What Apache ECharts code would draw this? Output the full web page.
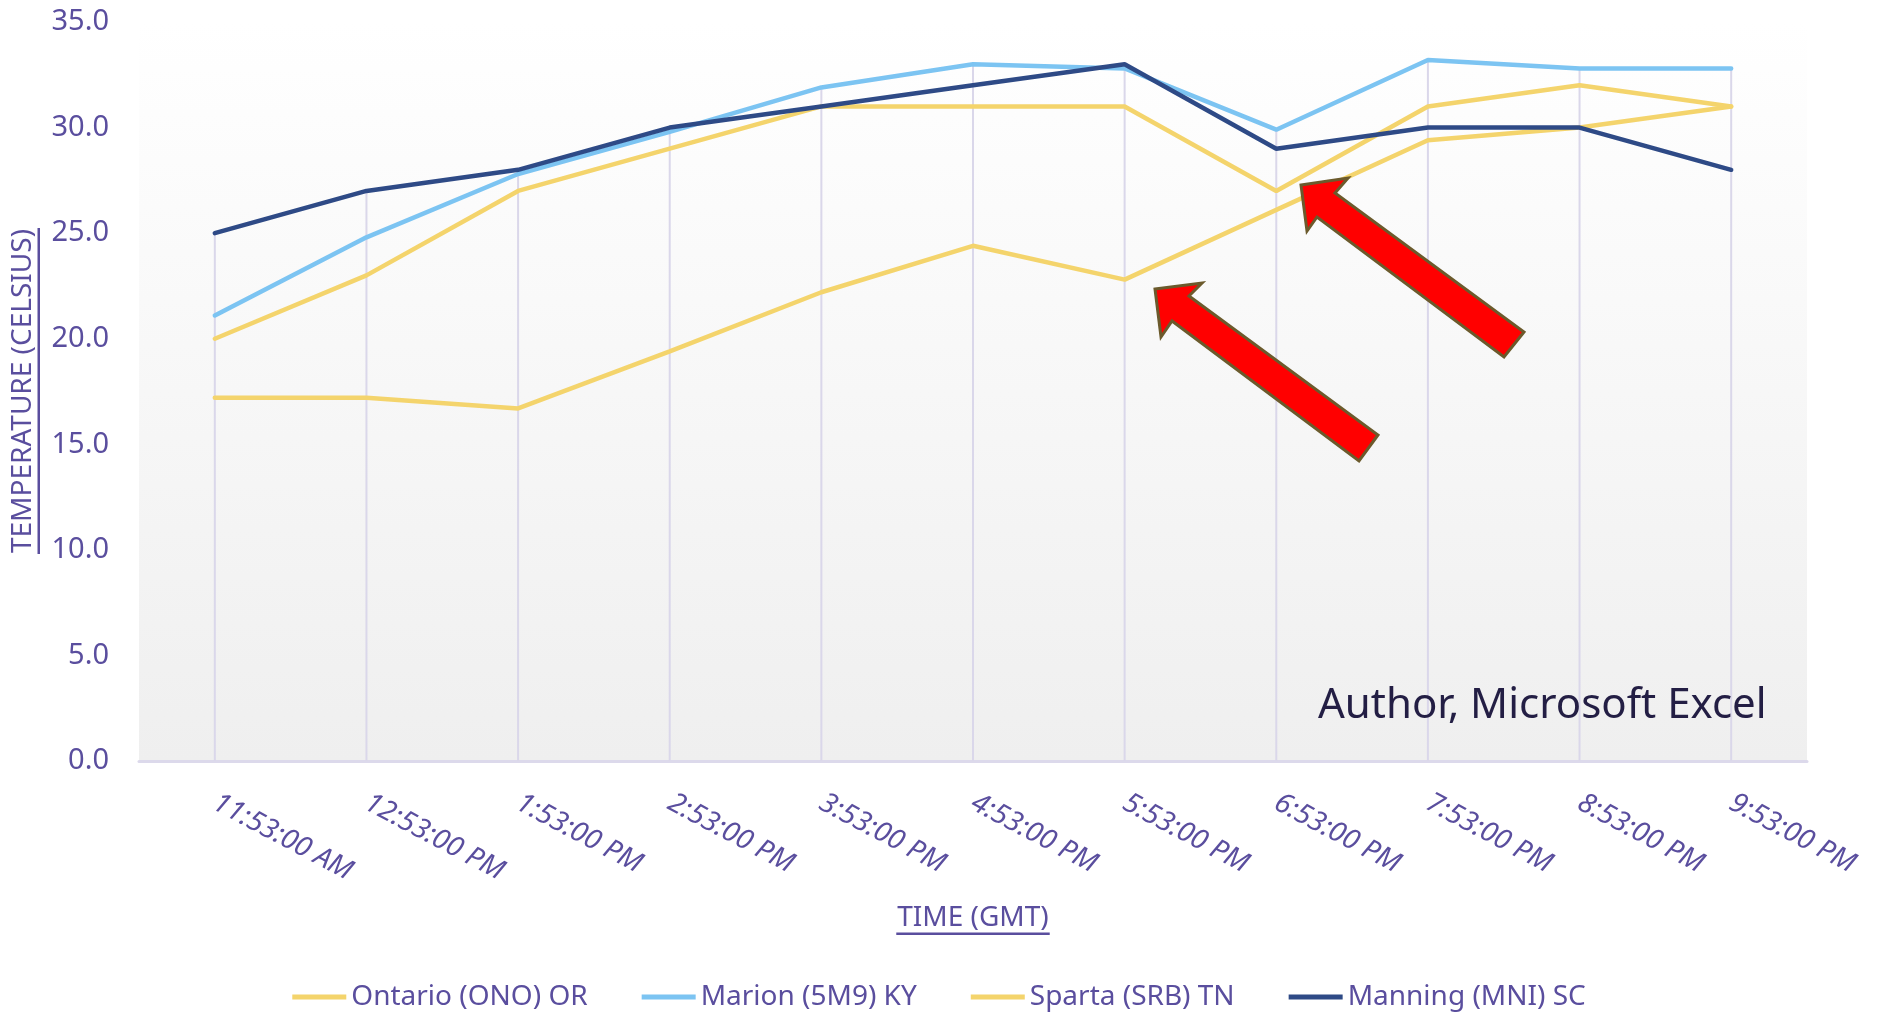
<!DOCTYPE html>
<html>
<head>
<meta charset="utf-8">
<script src="https://cdn.jsdelivr.net/npm/echarts@6/dist/echarts.min.js"></script>
<style>
html, body { margin: 0; padding: 0; background: #ffffff; }
#main { width: 1878px; height: 1013px; }
</style>
</head>
<body>
<div id="main"></div>
<script>
// time of reading (GMT)
const times = ['11:53:00 AM', '12:53:00 PM', '1:53:00 PM', '2:53:00 PM', '3:53:00 PM', '4:53:00 PM',
    '5:53:00 PM', '6:53:00 PM', '7:53:00 PM', '8:53:00 PM', '9:53:00 PM']
// temperatures, celsius
const ontario = [17.2, 17.2, 16.7, 19.4, 22.2, 24.4, 22.8, 26.1, 29.4, 30.0, 31.0]
const marion = [21.1, 24.8, 27.8, 29.8, 31.9, 33.0, 32.8, 29.9, 33.2, 32.8, 32.8]
const sparta = [20.0, 23.0, 27.0, 29.0, 31.0, 31.0, 31.0, 27.0, 31.0, 32.0, 31.0]
const manning = [25.0, 27.0, 28.0, 30.0, 31.0, 32.0, 33.0, 29.0, 30.0, 30.0, 28.0]
const names = ['Ontario (ONO) OR', 'Marion (5M9) KY', 'Sparta (SRB) TN', 'Manning (MNI) SC']
const colors = ['#f4d46c', '#7cc4f2', '#f4d46c', '#2e4a86']

const purple = '#5a4e9e'
const font = '"Noto Sans", sans-serif'

// drop lines go from the highest reading down to the axis
let dropLines = []
for (let i = 0; i < times.length; i++) {
    dropLines.push(Math.max(ontario[i], marion[i], sparta[i], manning[i]))
}

const chart = echarts.init(document.getElementById('main'))

// excel underlines the axis titles, echarts can't, so draw a bar under the text
const measure = document.createElement('canvas').getContext('2d')
function axisTitle(text, x, y, rotation) {
    measure.font = '28px ' + font
    const w = measure.measureText(text).width + 2
    return {
        type: 'group',
        x: x,
        y: y,
        rotation: rotation,
        z: 100,
        children: [
            {
                type: 'text',
                x: 0,
                y: -3,
                style: {
                    text: text,
                    font: '28px ' + font,
                    fill: purple,
                    align: 'center',
                    verticalAlign: 'bottom'
                }
            },
            {
                type: 'rect',
                shape: { x: -w / 2, y: -2.5, width: w, height: 2.5 },
                style: { fill: purple }
            }
        ]
    }
}

function arrow(points) {
    return {
        type: 'polygon',
        z: 100,
        shape: { points: points },
        style: { fill: '#ff0000', stroke: '#6b5a2c', lineWidth: 3 }
    }
}

let option = {
    animation: false,
    backgroundColor: '#ffffff',
    grid: {
        left: 139,
        right: 71,
        top: 22,
        bottom: 252,
        show: true,
        borderWidth: 0,
        backgroundColor: new echarts.graphic.LinearGradient(0, 0, 0, 1, [
            { offset: 0, color: '#ffffff' },
            { offset: 1, color: '#efefef' }
        ])
    },
    legend: {
        data: names,
        left: 'center',
        top: 978,
        icon: 'rect',
        itemWidth: 54,
        itemHeight: 5,
        itemGap: 54,
        textStyle: { fontSize: 28, fontFamily: font, color: purple }
    },
    xAxis: {
        type: 'category',
        data: times,
        boundaryGap: true,
        axisLine: { lineStyle: { color: '#dcd9eb', width: 3 } },
        axisTick: { show: false },
        splitLine: { show: false },
        axisLabel: {
            rotate: -28,
            margin: 40,
            fontSize: 28,
            fontStyle: 'italic',
            fontFamily: font,
            color: purple
        }
    },
    yAxis: {
        type: 'value',
        min: 0,
        max: 35,
        interval: 5,
        axisLine: { show: false },
        axisTick: { show: false },
        splitLine: { show: false },
        axisLabel: {
            margin: 30,
            fontSize: 29,
            fontFamily: font,
            color: purple,
            formatter: v => v.toFixed(1)
        }
    },
    series: [
        {
            name: 'drop',
            type: 'bar',
            data: dropLines,
            barWidth: 2,
            silent: true,
            z: 1,
            itemStyle: { color: '#dad7ea' }
        },
        {
            name: names[0],
            type: 'line',
            data: ontario,
            symbol: 'none',
            z: 3,
            lineStyle: { color: colors[0], width: 4.5, cap: 'round' },
            itemStyle: { color: colors[0] }
        },
        {
            name: names[1],
            type: 'line',
            data: marion,
            symbol: 'none',
            z: 4,
            lineStyle: { color: colors[1], width: 4.5, cap: 'round' },
            itemStyle: { color: colors[1] }
        },
        {
            name: names[2],
            type: 'line',
            data: sparta,
            symbol: 'none',
            z: 5,
            lineStyle: { color: colors[2], width: 4.5, cap: 'round' },
            itemStyle: { color: colors[2] }
        },
        {
            name: names[3],
            type: 'line',
            data: manning,
            symbol: 'none',
            z: 6,
            lineStyle: { color: colors[3], width: 4.5, cap: 'round' },
            itemStyle: { color: colors[3] }
        }
    ],
    graphic: [
        axisTitle('TIME (GMT)', 973, 935, 0),
        axisTitle('TEMPERATURE (CELSIUS)', 40, 391, Math.PI / 2),
        {
            type: 'text',
            left: 1318,
            top: 685,
            z: 100,
            style: {
                text: 'Author, Microsoft Excel',
                font: '42px ' + font,
                fill: '#231e44'
            }
        },
        arrow([[1155, 289], [1202, 283], [1189, 296], [1378, 435], [1359, 461], [1172, 321], [1161, 337]]),
        arrow([[1301, 185], [1348, 178], [1335, 193], [1524, 332], [1504, 357], [1317, 217], [1307, 231]])
    ]
}

chart.setOption(option)
</script>
</body>
</html>
